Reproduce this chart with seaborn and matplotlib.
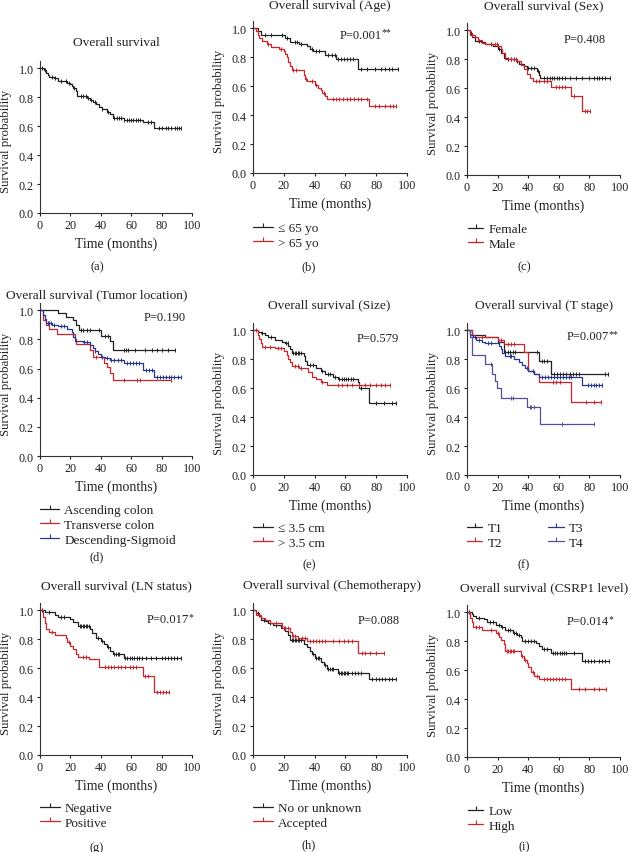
import numpy as np
import matplotlib
matplotlib.use("Agg")
import matplotlib.pyplot as plt
import seaborn as sns
from matplotlib.lines import Line2D

# ---- data (months, survival probability, censor times) ----
# (a) overall
all_t = [2.5, 4, 5, 6, 9, 12, 18, 20, 21, 22, 23.5, 24.5, 31, 33, 35, 37, 39, 41, 44, 46, 48, 55, 68, 75]
all_s = [0.99, 0.97, 0.95, 0.94, 0.93, 0.915, 0.90, 0.89, 0.875, 0.865, 0.845, 0.805, 0.795, 0.78, 0.765,
         0.75, 0.73, 0.715, 0.70, 0.685, 0.655, 0.645, 0.63, 0.585]
all_c = [1.5, 3, 8, 10, 14, 17, 19, 22.5, 27, 28.5, 30, 31.5, 33.5, 36, 41, 44.5, 49, 50.5, 52, 53.5, 55.5, 57,
         58.5, 60, 61.5, 63, 64.5, 66, 71, 73, 78.5, 80.5, 83, 84.5, 86, 88.5, 90, 91.5, 93]

# (b) age
age_lo_t = [3, 5, 20.5, 24, 30, 35, 37, 39, 47, 54, 68]
age_lo_s = [0.98, 0.955, 0.93, 0.905, 0.89, 0.875, 0.86, 0.84, 0.815, 0.79, 0.72]
age_lo_c = [8, 12, 19, 22, 27, 28.5, 31, 38, 41, 43, 49, 51, 53, 55, 57, 59, 61, 63, 65, 70, 74, 79, 83, 86, 88, 90, 94]
age_hi_t = [2, 3, 4, 6, 9, 12, 17, 20, 21, 22, 23, 24, 25, 33, 34, 35, 40, 42, 44, 45, 47, 48, 75]
age_hi_s = [0.98, 0.955, 0.93, 0.91, 0.89, 0.87, 0.855, 0.84, 0.82, 0.80, 0.77, 0.74, 0.71, 0.68, 0.65, 0.635,
            0.61, 0.59, 0.57, 0.55, 0.53, 0.51, 0.465]
age_hi_c = [10, 18, 26, 28, 34.5, 38, 41, 46, 52, 54, 56, 58.5, 61, 63, 65.5, 68, 70, 74, 79, 82, 86, 89, 91, 93]

# (c) sex
fem_t = [2, 3, 5, 9, 12, 17, 20, 22, 24, 26, 32, 34, 37, 39, 46, 47, 48]
fem_s = [0.98, 0.95, 0.925, 0.92, 0.905, 0.89, 0.87, 0.845, 0.81, 0.80, 0.79, 0.77, 0.75, 0.74, 0.72, 0.69, 0.67]
fem_c = [2.5, 8, 16, 21, 27, 29, 31, 33, 40, 42, 44, 46.5, 50, 52, 54, 55.5, 57, 58.5, 60, 62, 64, 67, 71, 75,
         80, 83, 85, 86.5, 88, 90, 93.5]
male_t = [2, 5, 7, 10, 12, 20, 22, 23, 25, 33, 35, 37, 39, 41, 43, 55, 68, 75]
male_s = [0.97, 0.95, 0.93, 0.915, 0.905, 0.89, 0.87, 0.84, 0.80, 0.79, 0.76, 0.73, 0.70, 0.67, 0.65, 0.61,
          0.545, 0.44]
male_c = [3, 7.5, 18, 19.5, 27, 29, 30.5, 32, 45, 47, 50, 52, 58, 60, 62, 64, 70, 77, 78.5, 80.5]

# (d) tumor location
asc_t = [12, 17, 22, 24, 25.5, 40, 46, 48]
asc_s = [0.98, 0.955, 0.93, 0.90, 0.865, 0.825, 0.79, 0.73]
asc_c = [27, 28.5, 31, 33, 39, 43, 45, 55, 56.5, 58, 62.5, 69, 74, 77, 80, 84, 89]
trans_t = [2, 4, 6, 11, 23, 24, 33, 35, 42, 44, 46, 48]
trans_s = [0.93, 0.90, 0.875, 0.835, 0.80, 0.77, 0.73, 0.68, 0.64, 0.61, 0.57, 0.525]
trans_c = [37, 55.5, 64, 65.5, 86.5]
desc_t = [2, 3, 4, 8, 12, 18, 21, 22, 23, 28, 33, 35, 36, 38, 40, 43, 46, 55, 68, 75]
desc_s = [0.97, 0.94, 0.915, 0.90, 0.89, 0.87, 0.85, 0.82, 0.79, 0.78, 0.76, 0.74, 0.72, 0.70, 0.68, 0.67,
          0.66, 0.635, 0.59, 0.54]
desc_c = [5, 6, 7, 9, 14, 16, 29, 31, 36.5, 41, 44, 47, 49, 51, 53, 57, 59, 61, 63, 65, 70, 72, 74, 77, 79,
          81, 83, 85, 86.5, 88, 91, 93]

# (e) size
small_t = [3, 5, 8, 10, 14, 19, 21, 23, 24, 25, 33, 34, 35, 41, 44, 47, 52, 55, 68, 69, 75]
small_s = [0.99, 0.98, 0.965, 0.95, 0.93, 0.92, 0.91, 0.89, 0.87, 0.84, 0.82, 0.79, 0.76, 0.74, 0.72, 0.70,
           0.68, 0.665, 0.64, 0.60, 0.50]
small_c = [6, 12, 21.5, 22.5, 26, 27, 28, 29, 30, 31, 37, 39, 45, 49, 50, 53, 56, 57.5, 59, 60.5, 62, 63.5,
           65, 70, 80, 85, 90, 93]
large_t = [3, 4, 5, 6, 14, 20, 22, 23, 24, 25, 30, 36, 38, 41, 44, 48]
large_s = [0.97, 0.94, 0.91, 0.885, 0.875, 0.86, 0.83, 0.80, 0.78, 0.755, 0.74, 0.71, 0.68, 0.66, 0.64, 0.62]
large_c = [2, 8, 11, 16, 18, 27, 29, 31, 45, 55, 58, 61, 64, 69, 73, 76, 80, 83, 86, 89]

# (f) T stage
t1_t = [3, 12, 20, 24, 47, 55]
t1_s = [0.97, 0.955, 0.92, 0.85, 0.79, 0.70]
t1_c = [25, 26.5, 28, 30, 31.5, 46, 49, 50.5, 52, 57, 59, 61, 63, 65, 67, 69, 71, 73, 90.5, 92]
t2_t = [3, 5, 20, 24, 37, 40, 44, 47, 68]
t2_s = [0.97, 0.95, 0.93, 0.905, 0.85, 0.72, 0.70, 0.64, 0.505]
t2_c = [10, 22, 27, 29, 31, 56, 58, 61, 78, 83, 87.5]
t3_t = [2, 4, 6, 10, 12, 21, 22, 23, 25, 31, 34, 36, 38, 40, 44, 47, 75]
t3_s = [0.97, 0.95, 0.93, 0.92, 0.91, 0.89, 0.87, 0.84, 0.82, 0.80, 0.78, 0.76, 0.74, 0.72, 0.70, 0.68, 0.62]
t3_c = [5, 8, 14, 16, 28, 29, 39, 43, 49, 51, 53, 55, 57, 59, 61, 63, 65, 66.5, 68, 79, 81, 83, 84.5, 86, 88.5]
t4_t = [2, 3.5, 12, 16.5, 18, 19.5, 22.5, 39, 47.5]
t4_s = [0.95, 0.83, 0.77, 0.70, 0.65, 0.60, 0.535, 0.47, 0.35]
t4_c = [16, 29, 30, 41, 42, 44, 62, 83]

# (g) LN status
neg_t = [3, 10, 12, 20, 22, 25, 33, 34, 37, 40, 42, 44, 46, 48, 55]
neg_s = [0.985, 0.97, 0.955, 0.94, 0.92, 0.89, 0.87, 0.84, 0.81, 0.79, 0.77, 0.745, 0.72, 0.695, 0.673]
neg_c = [1, 6, 14, 16, 26, 27, 28, 29, 30, 31, 32, 38, 41, 45, 49, 50, 51, 52, 56, 57.5, 59, 60.5, 62, 63.5,
         65, 67, 70, 73, 76, 80, 82, 84, 86, 88, 90, 93]
pos_t = [2, 3, 4, 6, 10, 17, 18, 20, 22, 24, 25, 32, 39, 68, 75]
pos_s = [0.95, 0.91, 0.87, 0.85, 0.83, 0.81, 0.78, 0.755, 0.73, 0.70, 0.68, 0.66, 0.61, 0.545, 0.435]
pos_c = [8, 19, 28, 30, 43, 45, 47, 49, 51, 53, 56, 59, 61, 63, 69, 71, 77, 79, 81, 83, 85]

# (h) chemotherapy
nochemo_t = [2, 4, 5, 8, 10, 13, 18, 21, 23, 24, 33, 35, 37, 38, 40, 44, 46, 48, 55, 75]
nochemo_s = [0.98, 0.96, 0.935, 0.925, 0.91, 0.895, 0.88, 0.86, 0.83, 0.795, 0.77, 0.745, 0.72, 0.70, 0.67,
             0.64, 0.62, 0.595, 0.565, 0.525]
nochemo_c = [3, 7, 11, 15, 20, 25, 26, 27, 28, 29, 30, 31, 39, 41, 42, 43, 47, 49, 50, 51, 52, 56, 57, 58, 59,
             60, 61, 62, 64, 66, 68, 70, 77, 80, 82, 84, 86, 88, 90, 93]
chemo_t = [2, 5, 8, 11, 19, 24, 25, 29, 35, 68]
chemo_s = [0.97, 0.945, 0.93, 0.915, 0.88, 0.85, 0.82, 0.805, 0.785, 0.705]
chemo_c = [4, 15, 21, 23, 26, 27, 32, 34, 37, 39, 41, 43, 45, 47, 52, 56, 59, 62, 64, 71, 73, 76, 80, 85]

# (i) CSRP1 level
low_t = [3, 4, 6, 11, 13, 19, 22, 25, 30, 33, 35, 36, 45, 47, 49, 55, 75]
low_s = [0.99, 0.975, 0.96, 0.95, 0.93, 0.91, 0.90, 0.88, 0.86, 0.845, 0.83, 0.80, 0.79, 0.765, 0.745, 0.72, 0.665]
low_c = [1, 8, 15, 17, 21, 23, 27, 28, 31, 32, 34, 38, 40, 42, 44, 50, 52, 56, 57.5, 59, 60.5, 62, 63.5, 65,
         70, 77, 79, 81, 83, 86, 88, 90, 93]
high_t = [2, 3, 4, 10, 19, 21, 22, 24, 25, 35, 37, 39, 40, 42, 44, 47, 68]
high_s = [0.96, 0.93, 0.90, 0.88, 0.86, 0.83, 0.81, 0.78, 0.73, 0.70, 0.67, 0.65, 0.62, 0.59, 0.56, 0.54, 0.47]
high_c = [6, 8, 16, 20, 26, 27, 28, 29, 30, 31, 36, 38, 43, 46, 50, 52, 54, 56, 58, 60, 62, 64, 73, 77, 83, 86, 91]

p_values = ["", "P=0.001", "P=0.408", "P=0.190", "P=0.579", "P=0.007", "P=0.017", "P=0.088", "P=0.014"]
p_stars = ["", "**", "", "", "", "**", "*", "", "*"]
titles = ["Overall survival", "Overall survival (Age)", "Overall survival (Sex)",
          "Overall survival (Tumor location)", "Overall survival (Size)", "Overall survival (T stage)",
          "Overall survival (LN status)", "Overall survival (Chemotherapy)", "Overall survival (CSRP1 level)"]
panel_tags = ["(a)", "(b)", "(c)", "(d)", "(e)", "(f)", "(g)", "(h)", "(i)"]

BLACK = "#222222"
RED = "#cc2529"
BLUE = "#26378e"
PURPLE = "#5a4b98"
TXT = "#222222"

# ---- style ----
sns.set_theme(style="ticks")
plt.rcParams["font.family"] = ["Liberation Serif", "DejaVu Serif"]
plt.rcParams["axes.linewidth"] = 0.8
plt.rcParams["axes.edgecolor"] = "#333333"

W, H = 628, 853
fig = plt.figure(figsize=(W / 100, H / 100), dpi=100)
fig.patch.set_facecolor("white")


def fx(x):
    return x / W


def fy(y):
    return 1 - y / H


def km(ax, t, s, c, color):
    t = np.asarray(t, float)
    s = np.asarray(s, float)
    c = np.asarray(c, float)
    end = max(t.max(), c.max())
    xs = np.concatenate([[0], t, [end]])
    ys = np.concatenate([[1], s, [s[-1]]])
    sns.lineplot(x=xs, y=ys, drawstyle="steps-post", color=color, lw=0.9,
                 estimator=None, sort=False, ax=ax)
    cy = np.concatenate([[1], s])[np.searchsorted(t, c, side="right")]
    ax.plot(c, cy, ls="none", marker="|", ms=3.5, mew=0.7, color=color)


def panel(k, box, title_xy, tag_xy, p_xy=None):
    l, t, r, b = box
    ax = fig.add_axes([fx(l), fy(b), fx(r - l), (b - t) / H])
    ax.set_xlim(0, 100)
    ax.set_ylim(0, 1.05)
    ax.set_xticks([0, 20, 40, 60, 80, 100])
    ax.set_yticks([0, 0.2, 0.4, 0.6, 0.8, 1.0])
    ax.set_yticklabels(["0.0", "0.2", "0.4", "0.6", "0.8", "1.0"])
    ax.tick_params(direction="out", length=2.5, width=0.8, labelsize=8.7, pad=2, colors=TXT)
    ax.set_facecolor("white")
    sns.despine(ax=ax)
    ax.set_xlabel("")
    ax.set_ylabel("")
    fig.text(fx(title_xy[0]), fy(title_xy[1]), titles[k], ha="center", va="center", fontsize=9.6, color=TXT)
    fig.text(fx((l + r) / 2), fy(b + 30), "Time (months)", ha="center", va="center", fontsize=10, color=TXT)
    fig.text(fx(l - 34), fy(b - 0.5 * (b - t) / 1.05), "Survival probability", rotation=90,
             ha="center", va="center", fontsize=9.3, color=TXT)
    fig.text(fx(tag_xy[0]), fy(tag_xy[1]), panel_tags[k], ha="center", va="center", fontsize=9, color=TXT)
    if p_xy is not None:
        pt = ax.text(p_xy[0], p_xy[1], p_values[k], transform=ax.transAxes, ha="left", va="center",
                     fontsize=9, color=TXT)
        if p_stars[k]:
            ax.annotate(p_stars[k], xy=(1.0, 0.72), xycoords=pt, ha="left", va="center", fontsize=7, color=TXT)
    return ax


def legend(ax, colors, labels, x, y, hl=1.5, ncol=1, cs=2.0):
    handles = [Line2D([], [], color=c, lw=0.9, marker=2, ms=3, mew=0.8) for c in colors]
    ax.legend(handles, labels, loc="upper left", bbox_to_anchor=(fx(x), fy(y - 5)),
              bbox_transform=fig.transFigure, frameon=False, fontsize=9.5, borderpad=0,
              borderaxespad=0, handlelength=hl, handletextpad=0.4, labelspacing=0.2,
              numpoints=1, ncol=ncol, columnspacing=cs, labelcolor=TXT)


# (a)
ax = panel(0, (40, 62, 192, 214), (116, 43), (97, 267))
km(ax, all_t, all_s, all_c, BLACK)

# (b)
ax = panel(1, (253, 22, 407, 174), (330, 6), (309, 267), (0.56, 0.91))
km(ax, age_lo_t, age_lo_s, age_lo_c, BLACK)
km(ax, age_hi_t, age_hi_s, age_hi_c, RED)
legend(ax, [BLACK, RED], ["\u2264 65 yo", "> 65 yo"], 253, 228)

# (c)
ax = panel(2, (467, 24, 620, 176), (544, 6), (524, 267), (0.63, 0.895))
km(ax, fem_t, fem_s, fem_c, BLACK)
km(ax, male_t, male_s, male_c, RED)
legend(ax, [BLACK, RED], ["Female", "Male"], 468, 229, hl=1.15)

# (d)
ax = panel(3, (40, 304, 192, 457), (97, 295), (97, 557), (0.68, 0.91))
km(ax, asc_t, asc_s, asc_c, BLACK)
km(ax, trans_t, trans_s, trans_c, RED)
km(ax, desc_t, desc_s, desc_c, BLUE)
legend(ax, [BLACK, RED, BLUE], ["Ascending colon", "Transverse colon", "Descending-Sigmoid"], 40, 510, hl=1.45)

# (e)
ax = panel(4, (253, 324, 407, 476), (329, 305), (309, 565), (0.67, 0.90))
km(ax, small_t, small_s, small_c, BLACK)
km(ax, large_t, large_s, large_c, RED)
legend(ax, [BLACK, RED], ["\u2264 3.5 cm", "> 3.5 cm"], 253, 528)

# (f)
ax = panel(5, (467, 324, 620, 476), (544, 306), (524, 565), (0.65, 0.915))
km(ax, t1_t, t1_s, t1_c, BLACK)
km(ax, t2_t, t2_s, t2_c, RED)
km(ax, t3_t, t3_s, t3_c, BLUE)
km(ax, t4_t, t4_s, t4_c, PURPLE)
legend(ax, [BLACK, RED, BLUE, PURPLE], ["T1", "T2", "T3", "T4"], 467, 528, hl=1.15, ncol=2, cs=3.5)

# (g)
ax = panel(6, (40, 604, 192, 756), (116, 586), (97, 848), (0.70, 0.895))
km(ax, neg_t, neg_s, neg_c, BLACK)
km(ax, pos_t, pos_s, pos_c, RED)
legend(ax, [BLACK, RED], ["Negative", "Positive"], 40, 808)

# (h)
ax = panel(7, (253, 604, 407, 756), (332, 586), (309, 845), (0.68, 0.89))
km(ax, nochemo_t, nochemo_s, nochemo_c, BLACK)
km(ax, chemo_t, chemo_s, chemo_c, RED)
legend(ax, [BLACK, RED], ["No or unknown", "Accepted"], 253, 808)

# (i)
ax = panel(8, (467, 606, 620, 758), (544, 588), (524, 847), (0.65, 0.895))
km(ax, low_t, low_s, low_c, BLACK)
km(ax, high_t, high_s, high_c, RED)
legend(ax, [BLACK, RED], ["Low", "High"], 468, 811, hl=1.15)

fig.savefig("out.png", dpi=100, facecolor="white")
